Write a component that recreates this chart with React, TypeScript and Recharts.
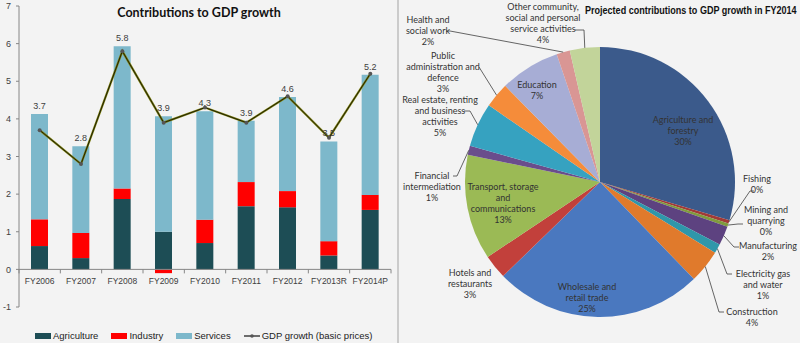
import React from 'react';
import {
  ComposedChart, Bar, Line, XAxis, YAxis, LabelList, Legend, ReferenceLine,
  PieChart, Pie, Cell,
} from 'recharts';

// ---------- Left chart data ----------
const years = ['FY2006', 'FY2007', 'FY2008', 'FY2009', 'FY2010', 'FY2011', 'FY2012', 'FY2013R', 'FY2014P'];
const agriculture = [0.62, 0.30, 1.87, 1.00, 0.70, 1.68, 1.65, 0.37, 1.58];
const industry = [0.71, 0.67, 0.28, -0.10, 0.62, 0.64, 0.43, 0.38, 0.40];
const services = [2.80, 2.30, 3.78, 3.07, 2.88, 1.63, 2.50, 2.65, 3.19];
const gdpGrowth = [3.7, 2.8, 5.8, 3.9, 4.3, 3.9, 4.6, 3.5, 5.2];
const yTicks = [-1, 0, 1, 2, 3, 4, 5, 6, 7];

// ---------- Right chart data ----------
const sectors = [
  'Agriculture and forestry', 'Fishing', 'Mining and quarrying', 'Manufacturing',
  'Electricity gas and water', 'Construction', 'Wholesale and retail trade',
  'Hotels and restaurants', 'Transport, storage and communications',
  'Financial intermediation', 'Real estate, renting and business activities',
  'Public administration and defence', 'Education', 'Health and social work',
  'Other community, social and personal service activities',
];
const sectorLabelLines = [
  ['Agriculture and', 'forestry'], ['Fishing'], ['Mining and', 'quarrying'], ['Manufacturing'],
  ['Electricity gas', 'and water'], ['Construction'], ['Wholesale and', 'retail trade'],
  ['Hotels and', 'restaurants'], ['Transport, storage', 'and', 'communications'],
  ['Financial', 'intermediation'], ['Real estate, renting', 'and business', 'activities'],
  ['Public', 'administration and', 'defence'], ['Education'], ['Health and', 'social work'],
  ['Other community,', 'social and personal', 'service activities'],
];
const shares = [29.6, 0.4, 0.4, 2.3, 1.1, 4.0, 25.0, 2.9, 12.6, 1.1, 5.3, 3.0, 7.2, 1.6, 3.6];

// ---------- Styles / layout ----------
const C_AG = '#1d4d55';
const C_IND = '#ff0000';
const C_SERV = '#7db8cb';
const sectorColors = [
  '#3b5a8b', '#a23a36', '#809b3d', '#5d4280', '#2f97aa', '#e07a2c', '#4a78bf',
  '#c2403b', '#9bba55', '#6a4d8c', '#36a2c0', '#f58c3a', '#a7add5', '#d99694', '#c2d49a',
];
// label placement relative to the pie centre: first-line centre (dx, dy), optional leader points
const pieLabelLayout: { dx: number; dy: number; leader?: number[][] }[] = [
  { dx: 83, dy: -62 },
  { dx: 157, dy: -3, leader: [[150, 9], [154, 9]] },
  { dx: 166, dy: 28, leader: [[138, 42], [143, 42]] },
  { dx: 168, dy: 64, leader: [[134, 65], [139, 65]] },
  { dx: 163, dy: 92, leader: [[127, 92], [132, 92]] },
  { dx: 152, dy: 130, leader: [[119, 130], [124, 130]] },
  { dx: -13, dy: 105 },
  { dx: -130, dy: 91 },
  { dx: -97, dy: 5 },
  { dx: -168, dy: -6, leader: [[-143, -6], [-147, -6]] },
  { dx: -160, dy: -82, leader: [[-130, -71], [-136, -71]] },
  { dx: -157, dy: -126, leader: [[-121, -115]] },
  { dx: -63, dy: -97 },
  { dx: -172, dy: -162, leader: [[-150, -151], [-154, -151]] },
  { dx: -57, dy: -175, leader: [[-16, -152], [-25, -152]] },
];

const CHART_W = 398;
const CHART_H = 343;
const M_TOP = 6;
const LEGEND_H = 16;
const XAXIS_H = 20;
const PLOT_LEFT = 19;
const M_RIGHT = 7;
const PLOT_BOTTOM = CHART_H - LEGEND_H - XAXIS_H;
const zeroY = M_TOP + (PLOT_BOTTOM - M_TOP) * (7 / 8);
const band = (CHART_W - M_RIGHT - PLOT_LEFT) / years.length;
const SANS = "'Liberation Sans', Arial, sans-serif";

const barData = years.map((year, i) => ({
  year,
  agriculture: agriculture[i],
  industry: industry[i],
  services: services[i],
  gdp: gdpGrowth[i],
}));
const pieData = sectors.map((name, i) => ({ name, value: shares[i] }));

const XTick = (props: any) => {
  const { x, payload, index } = props;
  return (
    <g>
      <line x1={x - band / 2} x2={x - band / 2} y1={zeroY} y2={zeroY + 4} stroke="#868686" />
      {index === years.length - 1 && (
        <line x1={x + band / 2} x2={x + band / 2} y1={zeroY} y2={zeroY + 4} stroke="#868686" />
      )}
      <text x={x} y={zeroY + 15} textAnchor="middle" fontSize={8.5} fill="#404040" fontFamily={SANS}>
        {payload.value}
      </text>
    </g>
  );
};

const LegendContent = () => {
  const items = [
    { name: 'Agriculture', color: C_AG },
    { name: 'Industry', color: C_IND },
    { name: 'Services', color: C_SERV },
  ];
  return (
    <div style={{
      height: LEGEND_H, boxSizing: 'border-box', paddingTop: 2, paddingLeft: 35,
      display: 'flex', alignItems: 'center', fontFamily: SANS, fontSize: 9.5, color: '#222',
      lineHeight: '12px',
    }}>
      {items.map((it) => (
        <div key={it.name} style={{ display: 'flex', alignItems: 'center', marginRight: 13 }}>
          <div style={{ width: 16, height: 6, background: it.color }} />
          <span style={{ marginLeft: 2 }}>{it.name}</span>
        </div>
      ))}
      <div style={{ display: 'flex', alignItems: 'center' }}>
        <svg width={16} height={8}>
          <line x1={0} x2={16} y1={4} y2={4} stroke="#111" strokeWidth={1.2} />
          <circle cx={8} cy={4} r={1.8} fill="#555" />
        </svg>
        <span style={{ marginLeft: 2 }}>GDP growth (basic prices)</span>
      </div>
    </div>
  );
};

const renderPieLabel = (props: any) => {
  const { cx, cy, midAngle, outerRadius, index, percent } = props;
  const lay = pieLabelLayout[index];
  const RAD = Math.PI / 180;
  const ex = cx + outerRadius * Math.cos(-midAngle * RAD);
  const ey = cy + outerRadius * Math.sin(-midAngle * RAD);
  const lines = [...sectorLabelLines[index], `${Math.round(percent * 100)}%`];
  const pts = lay.leader ? [[ex, ey], ...lay.leader.map(([dx, dy]) => [cx + dx, cy + dy])] : null;
  return (
    <g key={`lbl-${index}`}>
      {pts && (
        <polyline points={pts.map((p) => p.join(',')).join(' ')} fill="none" stroke="#404040" strokeWidth={0.8} />
      )}
      <text textAnchor="middle" fontSize={9} fill="#333" fontFamily="Lato, sans-serif">
        {lines.map((l, i) => (
          <tspan key={i} x={cx + lay.dx} y={cy + lay.dy + i * 10.8 + 3.2}>{l}</tspan>
        ))}
      </text>
    </g>
  );
};

export default function App() {
  return (
    <div style={{ position: 'absolute', left: 0, top: 0, width: 800, height: 343, background: '#f3f3f3', overflow: 'hidden' }}>
      {/* Left panel */}
      <div style={{ position: 'absolute', left: 0, top: 0, width: CHART_W, height: CHART_H }}>
        <ComposedChart
          width={CHART_W}
          height={CHART_H}
          data={barData}
          stackOffset="sign"
          margin={{ top: M_TOP, right: M_RIGHT, left: 0, bottom: 0 }}
        >
          <XAxis dataKey="year" height={XAXIS_H} axisLine={false} tickLine={false} tick={<XTick />} interval={0} />
          <YAxis
            domain={[-1, 7]}
            ticks={yTicks}
            width={PLOT_LEFT}
            axisLine={{ stroke: '#868686' }}
            tickLine={{ stroke: '#868686' }}
            tickSize={3}
            tickMargin={5}
            tick={{ fontSize: 9, fill: '#404040', fontFamily: SANS }}
            allowDataOverflow
          />
          <ReferenceLine y={0} stroke="#868686" />
          <Bar dataKey="agriculture" stackId="a" fill={C_AG} barSize={17} isAnimationActive={false} />
          <Bar dataKey="industry" stackId="a" fill={C_IND} barSize={17} isAnimationActive={false} />
          <Bar dataKey="services" stackId="a" fill={C_SERV} barSize={17} isAnimationActive={false}>
            <LabelList dataKey="gdp" position="top" offset={5} fontSize={9} fill="#404040" fontFamily={SANS} />
          </Bar>
          <Line dataKey="gdp" stroke="#7d800f" strokeWidth={2.2} dot={false} isAnimationActive={false} legendType="none" />
          <Line dataKey="gdp" stroke="#151505" strokeWidth={0.9} dot={{ r: 2, fill: '#555', stroke: 'none' }} activeDot={false} isAnimationActive={false} />
          <Legend verticalAlign="bottom" content={<LegendContent />} />
        </ComposedChart>
        <div style={{
          position: 'absolute', left: 0, width: CHART_W, top: 5, textAlign: 'center',
          fontFamily: 'Lato, sans-serif', fontWeight: 700, fontSize: 12.5, color: '#111', lineHeight: '16px',
        }}>
          Contributions to GDP growth
        </div>
      </div>
      <div style={{ position: 'absolute', left: 397, top: 0, width: 2, height: 343, background: '#cbcbcb' }} />
      {/* Right panel */}
      <div style={{ position: 'absolute', left: 400, top: 0, width: 400, height: 343 }}>
        <PieChart width={400} height={343} margin={{ top: 0, right: 0, bottom: 0, left: 0 }}>
          <Pie
            data={pieData}
            dataKey="value"
            nameKey="name"
            cx={200}
            cy={182}
            outerRadius={135}
            startAngle={90}
            endAngle={-270}
            stroke="none"
            labelLine={false}
            label={renderPieLabel}
            isAnimationActive={false}
          >
            {pieData.map((d, i) => (
              <Cell key={d.name} fill={sectorColors[i]} />
            ))}
          </Pie>
        </PieChart>
        <div style={{
          position: 'absolute', left: 185, top: 3, whiteSpace: 'nowrap',
          fontFamily: SANS, fontWeight: 700, fontSize: 10.5, color: '#111', lineHeight: '14px',
          transform: 'scaleX(0.86)', transformOrigin: 'left center',
        }}>
          Projected contributions  to GDP growth in FY2014
        </div>
      </div>
    </div>
  );
}
